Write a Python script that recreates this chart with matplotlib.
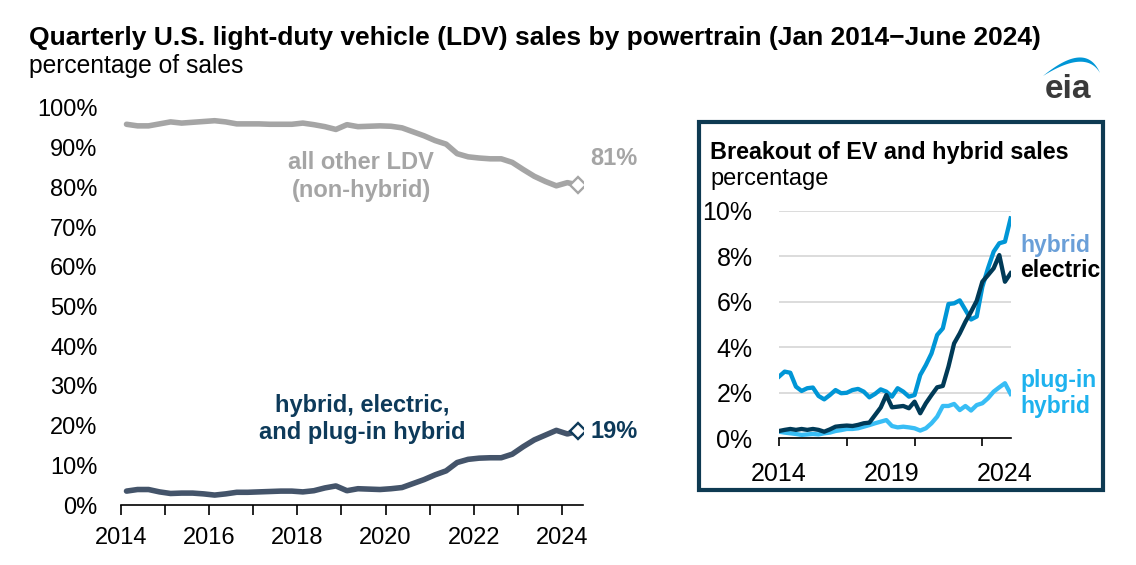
import numpy as np
import matplotlib
matplotlib.use("Agg")
import matplotlib.pyplot as plt
from matplotlib.patches import Rectangle, Polygon

plt.rcParams['font.family'] = ['Liberation Sans', 'DejaVu Sans']

# quarterly data, Q1 2014 .. Q2 2024
start_year = 2014
other_ldv = [95.9, 95.5, 95.5, 96.0, 96.5, 96.2, 96.4, 96.6, 96.8, 96.5, 96.0, 96.0,
             96.0, 95.9, 95.9, 95.9, 96.2, 95.8, 95.3, 94.6, 95.8, 95.3, 95.4, 95.5,
             95.4, 95.0, 94.0, 93.0, 91.8, 90.9, 88.5, 87.7, 87.4, 87.2, 87.2, 86.3,
             84.5, 82.8, 81.5, 80.4, 81.2, 80.6]
hev_ev_phev = [3.5, 3.9, 3.9, 3.3, 2.9, 3.0, 3.0, 2.8, 2.5, 2.8, 3.2, 3.2,
               3.3, 3.4, 3.5, 3.5, 3.3, 3.6, 4.3, 4.8, 3.6, 4.1, 4.0, 3.9,
               4.1, 4.4, 5.4, 6.4, 7.6, 8.6, 10.7, 11.5, 11.8, 11.9, 11.9, 12.8,
               14.7, 16.4, 17.6, 18.8, 17.9, 18.6]

# inset breakout
hybrid = [2.71, 2.93, 2.88, 2.27, 2.08, 2.2, 2.23, 1.86, 1.71, 1.9, 2.12, 1.98,
          2.0, 2.12, 2.17, 2.05, 1.8, 1.95, 2.15, 2.05, 1.83, 2.2, 2.05, 1.83,
          1.9, 2.78, 3.22, 3.73, 4.54, 4.83, 5.9, 5.93, 6.06, 5.64, 5.22, 5.35,
          6.66, 7.47, 8.2, 8.57, 8.64, 9.66]
electric = [0.32, 0.37, 0.41, 0.37, 0.41, 0.37, 0.41, 0.37, 0.29, 0.39, 0.51, 0.54,
            0.56, 0.54, 0.59, 0.66, 0.69, 1.02, 1.35, 1.9, 1.36, 1.39, 1.42, 1.32,
            1.61, 1.1, 1.54, 1.9, 2.24, 2.3, 3.15, 4.17, 4.61, 5.12, 5.56, 6.04,
            6.88, 7.17, 7.47, 8.05, 6.88, 7.25]
plugin = [0.29, 0.25, 0.22, 0.19, 0.15, 0.17, 0.19, 0.17, 0.22, 0.25, 0.32, 0.36,
          0.41, 0.41, 0.44, 0.51, 0.58, 0.66, 0.73, 0.8, 0.54, 0.48, 0.51, 0.48,
          0.44, 0.34, 0.44, 0.66, 0.95, 1.42, 1.42, 1.51, 1.24, 1.42, 1.22, 1.46,
          1.54, 1.76, 2.05, 2.24, 2.42, 1.95]

main_years = list(range(2014, 2025))
inset_labels = ["2014", "2019", "2024"]

W, H = 1136, 565


def fx(px):
    return px / W


def fy(py):
    return 1 - py / H


fig = plt.figure(figsize=(W / 100, H / 100), dpi=100)

GRAY = "#a5a5a5"
SLATE = "#44546a"
NAVY = "#0d3a5a"

# Main chart
ax = fig.add_axes([fx(121), fy(505), fx(583) - fx(121), fy(108) - fy(505)])
n = len(other_ldv)
xq = start_year + (np.arange(n) + 0.5) / 4

ax.plot(xq, other_ldv, color=GRAY, lw=4, solid_capstyle="round", solid_joinstyle="round")
ax.plot(xq, hev_ev_phev, color=SLATE, lw=4, solid_capstyle="round", solid_joinstyle="round")
ax.plot(xq[-1], other_ldv[-1], marker="D", ms=8.5, mfc="white", mec=GRAY, mew=1.7, zorder=5)
ax.plot(xq[-1], hev_ev_phev[-1], marker="D", ms=8.5, mfc="white", mec=NAVY, mew=1.7, zorder=5)

ax.set_xlim(2014, 2024.48)
ax.set_ylim(0, 100)
ax.set_yticks(range(0, 101, 10))
ax.set_yticklabels([f"{v}%" for v in range(0, 101, 10)])
ax.set_xticks(main_years)
ax.set_xticklabels([str(y) if y % 2 == 0 else "" for y in main_years])
ax.tick_params(axis="y", length=0, pad=17, labelsize=17)
ax.tick_params(axis="x", length=7, width=1.2, direction="out", pad=9, labelsize=17)
for s in ["top", "right", "left"]:
    ax.spines[s].set_visible(False)
ax.spines["bottom"].set_linewidth(1.2)

ax.text(2024.64, 87.4, "81%", color=GRAY, fontsize=17,
        fontweight="bold", va="center", ha="left", clip_on=False)
ax.text(2024.66, 18.4, "19%", color=NAVY, fontsize=17,
        fontweight="bold", va="center", ha="left", clip_on=False)
ax.text(2019.45, 84.6, "all other LDV", color=GRAY, fontsize=17,
        fontweight="bold", ha="center", va="baseline")
ax.text(2019.45, 77.6, "(non-hybrid)", color=GRAY, fontsize=17,
        fontweight="bold", ha="center", va="baseline")
ax.text(2019.47, 23.5, "hybrid, electric,", color=NAVY, fontsize=17,
        fontweight="bold", ha="center", va="baseline")
ax.text(2019.47, 16.6, "and plug-in hybrid", color=NAVY, fontsize=17,
        fontweight="bold", ha="center", va="baseline")

# Titles
fig.text(fx(29), fy(45), "Quarterly U.S. light-duty vehicle (LDV) sales by powertrain (Jan 2014\u2212June 2024)",
         fontsize=19, fontweight="bold", va="baseline", ha="left")
fig.text(fx(29), fy(73), "percentage of sales", fontsize=17.7, va="baseline", ha="left")

# Inset box
fig.patches.append(Rectangle((fx(699), fy(490)), fx(1103) - fx(699), fy(122) - fy(490),
                             transform=fig.transFigure, fill=False, ec="#0e3a52", lw=3,
                             zorder=0))
fig.text(fx(710), fy(159), "Breakout of EV and hybrid sales", fontsize=16.8,
         fontweight="bold", va="baseline", ha="left")
fig.text(fx(710), fy(185), "percentage", fontsize=17, va="baseline", ha="left")

axin = fig.add_axes([fx(779), fy(438.3), fx(1010.6) - fx(779), fy(210.7) - fy(438.3)])
xi = np.arange(n)
axin.plot(xi, plugin, color="#38bdf5", lw=3.1, solid_joinstyle="round", zorder=3)
axin.plot(xi, hybrid, color="#0096d6", lw=3.1, solid_joinstyle="round", zorder=4)
axin.plot(xi, electric, color="#003a57", lw=3.1, solid_joinstyle="round", zorder=5)
axin.set_xlim(0, n - 1)
axin.set_ylim(0, 10)
axin.set_yticks(range(0, 11, 2))
axin.set_yticklabels([f"{v}%" for v in range(0, 11, 2)])
axin.yaxis.grid(True, color="#d9d9d9", lw=1.3)
axin.set_axisbelow(True)
axin.xaxis.remove_overlapping_locs = False
axin.set_xticks([0, 12, 24, 36])
axin.set_xticklabels([])
axin.set_xticks([0, 20, 40], minor=True)
axin.set_xticklabels(inset_labels, minor=True)
axin.tick_params(axis="x", which="major", length=6, width=1.2)
axin.tick_params(axis="x", which="minor", length=0, pad=17, labelsize=18)
axin.tick_params(axis="y", length=0, pad=19, labelsize=18)
for s in ["top", "right", "left"]:
    axin.spines[s].set_visible(False)
axin.spines["bottom"].set_linewidth(1.2)

fig.text(fx(1020), fy(252), "hybrid", color="#6a9fd8", fontsize=16.5, fontweight="bold", va="baseline")
fig.text(fx(1020), fy(277), "electric", color="black", fontsize=16.5, fontweight="bold", va="baseline")
fig.text(fx(1020), fy(387), "plug-in", color="#1eb2ee", fontsize=16.5, fontweight="bold", va="baseline")
fig.text(fx(1020), fy(413), "hybrid", color="#1eb2ee", fontsize=16.5, fontweight="bold", va="baseline")

# eia logo
logo = fig.add_axes([fx(1035), fy(105), fx(1105) - fx(1035), fy(50) - fy(105)])
logo.set_xlim(1035, 1105)
logo.set_ylim(105, 50)
logo.axis("off")
t = np.linspace(0, 1, 40)
p0, p2 = np.array([1043, 76]), np.array([1100, 73])
outer = ((1 - t) ** 2)[:, None] * p0 + (2 * t * (1 - t))[:, None] * np.array([1086, 40.5]) + (t ** 2)[:, None] * p2
inner = ((1 - t) ** 2)[:, None] * p0 + (2 * t * (1 - t))[:, None] * np.array([1086, 49]) + (t ** 2)[:, None] * p2
logo.add_patch(Polygon(np.vstack([outer, inner[::-1]]), closed=True, color="#0096d6", lw=0))
logo.text(1067.5, 98, "eia", color="#3a3a3a", fontsize=24, fontweight="bold",
          ha="center", va="baseline")

fig.savefig("out.png", dpi=100)
